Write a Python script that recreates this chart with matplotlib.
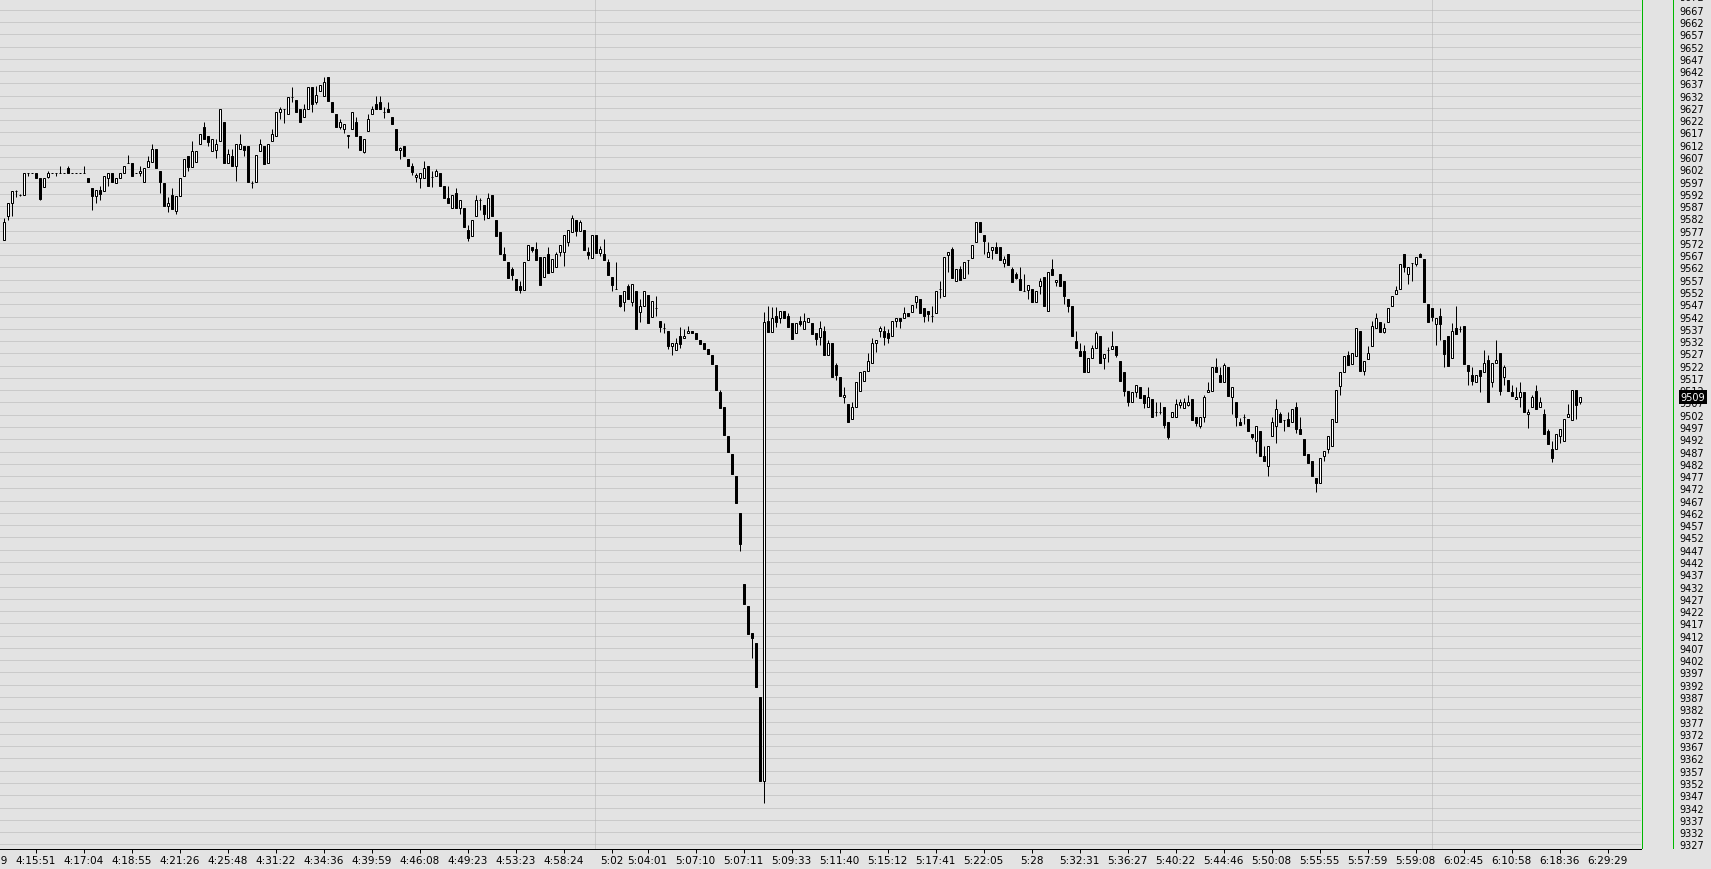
import matplotlib
matplotlib.use("Agg")
import matplotlib.pyplot as plt
import numpy as np
from matplotlib.lines import Line2D
from matplotlib.transforms import blended_transform_factory, Bbox, TransformedBbox

# ---------------- data (OHLC per bar, tick chart) ----------------
opens = [
 9573.0, 9583.1, 9588.1, 9593.0, 9591.5, 9591.5, 9600.3, 9600.3, 9600.3, 9598.4,
 9594.9, 9599.0, 9600.3, 9600.3, 9600.3, 9600.3, 9602.4, 9600.3, 9600.3, 9600.3,
 9600.3, 9598.4, 9594.2, 9591.2, 9593.5, 9593.3, 9598.3, 9600.3, 9596.3, 9598.3,
 9600.3, 9604.4, 9604.4, 9600.3, 9600.3, 9596.9, 9603.0, 9605.1, 9610.2, 9601.1,
 9596.4, 9587.2, 9591.5, 9585.1, 9591.2, 9599.1, 9607.3, 9603.0, 9605.1, 9612.1,
 9619.1, 9615.4, 9609.3, 9610.0, 9613.5, 9621.2, 9604.4, 9607.3, 9603.2, 9610.2,
 9611.3, 9611.3, 9596.4, 9596.9, 9609.3, 9611.3, 9604.4, 9613.5, 9615.4, 9625.2,
 9626.5, 9624.5, 9631.3, 9630.1, 9626.5, 9623.1, 9626.5, 9635.4, 9629.3, 9634.0,
 9632.0, 9639.4, 9629.5, 9624.5, 9619.1, 9618.4, 9615.4, 9618.4, 9621.1, 9615.4,
 9609.2, 9617.4, 9624.5, 9628.6, 9629.5, 9625.4, 9626.5, 9623.1, 9618.4, 9610.0,
 9611.5, 9606.2, 9603.2, 9598.9, 9598.4, 9598.4, 9603.2, 9599.0, 9599.2, 9600.5,
 9595.1, 9590.2, 9586.1, 9592.4, 9586.1, 9586.1, 9577.3, 9574.9, 9583.1, 9589.5,
 9587.5, 9582.0, 9591.6, 9581.4, 9576.4, 9567.4, 9564.1, 9561.4, 9557.3, 9554.4,
 9553.0, 9565.2, 9570.5, 9569.6, 9566.4, 9558.0, 9567.4, 9560.0, 9562.0, 9568.2,
 9568.2, 9572.2, 9576.4, 9581.4, 9577.0, 9577.3, 9568.2, 9566.0, 9575.3, 9568.0,
 9567.5, 9564.4, 9558.2, 9553.1, 9550.6, 9548.0, 9554.6, 9548.1, 9552.5, 9544.0,
 9546.2, 9550.6, 9542.0, 9545.4, 9540.2, 9537.3, 9536.2, 9530.2, 9528.2, 9534.0,
 9533.2, 9535.2, 9536.0, 9535.3, 9532.5, 9531.1, 9528.8, 9526.3, 9522.3, 9511.3,
 9505.2, 9493.3, 9486.0, 9477.0, 9462.0, 9433.0, 9424.1, 9413.0, 9409.0, 9387.0,
 9352.6, 9540.2, 9535.9, 9542.3, 9541.3, 9544.2, 9542.3, 9539.4, 9535.2, 9540.2,
 9537.0, 9539.9, 9539.4, 9535.2, 9533.7, 9536.2, 9526.2, 9531.3, 9522.3, 9517.3,
 9509.2, 9506.4, 9500.4, 9505.0, 9511.8, 9515.9, 9520.0, 9523.0, 9531.1, 9536.0,
 9536.0, 9535.3, 9534.0, 9540.0, 9541.4, 9541.3, 9543.3, 9544.0, 9548.1, 9549.2,
 9545.5, 9544.1, 9542.1, 9543.3, 9553.2, 9550.3, 9567.2, 9569.5, 9556.4, 9561.4,
 9557.9, 9565.2, 9566.0, 9572.2, 9580.4, 9575.2, 9566.1, 9569.3, 9570.2, 9570.2,
 9563.8, 9567.5, 9561.4, 9559.3, 9557.3, 9552.6, 9553.0, 9553.2, 9548.1, 9554.3,
 9558.0, 9544.1, 9561.4, 9556.2, 9559.2, 9556.5, 9549.2, 9546.2, 9532.2, 9528.1,
 9528.1, 9519.3, 9525.0, 9529.1, 9534.0, 9525.0, 9528.4, 9528.8, 9530.2, 9524.0,
 9519.3, 9511.8, 9507.0, 9511.1, 9513.2, 9510.0, 9505.0, 9508.4, 9503.0, 9503.0,
 9505.0, 9498.9, 9500.9, 9500.9, 9506.1, 9504.7, 9506.1, 9508.4, 9500.9, 9497.3,
 9500.9, 9511.1, 9511.8, 9521.3, 9518.2, 9515.2, 9521.3, 9509.1, 9507.0, 9499.2,
 9500.9, 9500.3, 9494.1, 9491.2, 9495.4, 9485.0, 9481.0, 9493.2, 9497.3, 9502.3,
 9500.0, 9500.3, 9498.9, 9505.0, 9496.2, 9492.1, 9486.0, 9483.1, 9476.4, 9474.2,
 9485.0, 9488.0, 9489.1, 9498.9, 9513.8, 9519.3, 9526.3, 9522.7, 9526.1, 9536.2,
 9519.9, 9524.7, 9530.1, 9537.2, 9539.9, 9535.8, 9539.9, 9546.1, 9551.0, 9553.2,
 9567.6, 9559.2, 9563.8, 9563.4, 9567.5, 9565.5, 9547.1, 9545.4, 9539.0, 9542.1,
 9532.3, 9533.9, 9525.0, 9537.2, 9537.0, 9538.0, 9522.3, 9518.2, 9515.2, 9520.2,
 9519.3, 9524.3, 9515.2, 9523.0, 9527.0, 9517.3, 9516.2, 9511.4, 9508.4, 9509.1,
 9511.1, 9502.3, 9505.0, 9511.8, 9505.0, 9502.3, 9495.3, 9488.1, 9488.1, 9493.2,
 9491.3, 9501.0, 9500.0, 9512.1, 9507.1,
]
highs = [
 9582.0, 9588.2, 9593.3, 9593.5, 9591.9, 9600.3, 9600.3, 9600.3, 9600.3, 9598.4,
 9598.4, 9601.3, 9600.3, 9600.3, 9603.2, 9600.3, 9603.2, 9600.3, 9600.3, 9600.3,
 9603.2, 9598.4, 9594.2, 9593.5, 9595.3, 9599.1, 9600.3, 9600.3, 9598.4, 9600.3,
 9603.2, 9607.9, 9604.4, 9600.3, 9603.2, 9602.4, 9607.3, 9612.3, 9610.2, 9601.1,
 9596.4, 9590.5, 9594.2, 9591.2, 9598.3, 9606.2, 9607.3, 9613.5, 9609.3, 9616.2,
 9621.2, 9615.4, 9614.3, 9614.3, 9626.5, 9621.2, 9610.2, 9610.2, 9612.1, 9616.2,
 9611.3, 9611.3, 9597.3, 9607.9, 9614.3, 9611.3, 9612.1, 9618.4, 9625.2, 9627.2,
 9626.5, 9631.3, 9635.4, 9630.1, 9626.5, 9628.6, 9635.4, 9635.4, 9636.0, 9636.2,
 9639.4, 9639.4, 9629.5, 9624.5, 9622.5, 9620.3, 9616.0, 9625.2, 9623.1, 9615.4,
 9614.3, 9624.5, 9627.9, 9632.0, 9632.0, 9627.2, 9629.3, 9623.1, 9618.4, 9611.0,
 9611.5, 9606.2, 9604.5, 9600.5, 9600.5, 9605.3, 9603.2, 9601.3, 9602.0, 9600.5,
 9595.1, 9595.1, 9591.6, 9594.3, 9589.5, 9586.1, 9579.3, 9581.4, 9591.6, 9590.3,
 9587.5, 9592.4, 9591.6, 9581.4, 9576.4, 9570.4, 9564.1, 9562.2, 9557.3, 9556.3,
 9564.1, 9571.2, 9570.5, 9572.3, 9566.4, 9566.2, 9570.3, 9565.5, 9568.5, 9571.2,
 9575.3, 9577.3, 9583.4, 9581.4, 9581.5, 9577.3, 9570.3, 9575.3, 9575.3, 9570.9,
 9573.4, 9565.5, 9558.2, 9564.1, 9550.6, 9552.4, 9555.3, 9555.3, 9552.5, 9549.2,
 9552.5, 9550.6, 9548.3, 9550.4, 9540.2, 9539.4, 9536.2, 9531.1, 9533.2, 9537.7,
 9537.0, 9538.1, 9536.0, 9535.3, 9532.5, 9531.1, 9528.8, 9526.3, 9522.3, 9512.2,
 9505.2, 9493.3, 9486.0, 9477.0, 9462.0, 9433.0, 9424.1, 9413.0, 9409.0, 9387.0,
 9544.0, 9546.2, 9546.0, 9546.0, 9544.2, 9544.2, 9543.4, 9539.4, 9539.4, 9542.3,
 9543.4, 9541.3, 9539.4, 9535.2, 9540.2, 9538.0, 9532.3, 9531.3, 9523.0, 9517.3,
 9513.3, 9506.4, 9507.1, 9515.2, 9519.3, 9520.0, 9527.2, 9533.1, 9532.5, 9538.3,
 9538.3, 9536.9, 9540.1, 9541.3, 9541.4, 9545.8, 9543.3, 9546.9, 9550.2, 9549.2,
 9545.5, 9544.1, 9546.2, 9552.3, 9556.4, 9566.1, 9568.2, 9570.2, 9561.4, 9562.4,
 9564.1, 9565.2, 9571.2, 9580.4, 9580.4, 9575.2, 9572.5, 9570.2, 9572.3, 9570.2,
 9566.8, 9567.5, 9562.0, 9560.3, 9562.0, 9559.3, 9555.0, 9553.2, 9552.3, 9557.6,
 9558.0, 9560.0, 9565.5, 9557.0, 9559.2, 9556.5, 9549.2, 9546.2, 9536.3, 9531.2,
 9530.4, 9525.0, 9530.4, 9536.1, 9534.0, 9526.8, 9529.5, 9536.0, 9530.2, 9524.0,
 9519.3, 9511.8, 9511.1, 9514.1, 9513.2, 9510.0, 9513.2, 9508.4, 9507.3, 9507.0,
 9505.0, 9498.9, 9503.0, 9508.4, 9508.4, 9508.7, 9510.0, 9508.4, 9500.9, 9500.9,
 9510.0, 9515.2, 9521.3, 9525.1, 9521.3, 9523.1, 9521.3, 9513.2, 9507.0, 9500.5,
 9502.3, 9500.3, 9494.1, 9497.3, 9495.4, 9489.4, 9489.1, 9501.0, 9508.4, 9503.0,
 9500.0, 9503.2, 9504.3, 9507.0, 9500.9, 9492.1, 9486.0, 9483.1, 9476.4, 9484.2,
 9487.4, 9493.2, 9500.3, 9512.1, 9519.3, 9526.0, 9528.1, 9527.0, 9537.2, 9536.2,
 9524.0, 9530.1, 9540.3, 9543.3, 9539.9, 9539.4, 9545.3, 9550.2, 9554.3, 9563.4,
 9567.6, 9562.0, 9563.8, 9566.1, 9567.8, 9565.5, 9547.1, 9545.4, 9541.3, 9545.4,
 9532.3, 9533.9, 9539.4, 9546.2, 9538.0, 9538.0, 9522.3, 9521.3, 9518.2, 9520.2,
 9528.4, 9526.3, 9523.0, 9532.5, 9527.0, 9522.3, 9516.2, 9514.1, 9513.2, 9515.2,
 9511.1, 9504.4, 9510.1, 9514.1, 9509.1, 9504.4, 9496.2, 9491.5, 9494.2, 9496.2,
 9500.3, 9506.4, 9512.1, 9512.1, 9509.1,
]
lows = [
 9573.0, 9581.5, 9583.1, 9590.5, 9591.2, 9591.5, 9599.4, 9600.3, 9598.3, 9589.6,
 9594.6, 9598.4, 9600.3, 9599.4, 9600.3, 9600.3, 9600.3, 9600.3, 9600.3, 9600.3,
 9600.3, 9596.9, 9585.5, 9588.2, 9589.6, 9593.3, 9595.3, 9596.9, 9596.3, 9598.3,
 9600.3, 9604.4, 9599.1, 9600.3, 9599.4, 9596.9, 9603.0, 9605.1, 9602.4, 9592.5,
 9587.2, 9584.4, 9585.8, 9583.6, 9591.2, 9599.1, 9601.4, 9603.0, 9605.1, 9612.1,
 9614.2, 9611.3, 9609.3, 9606.4, 9613.5, 9604.4, 9604.4, 9603.2, 9597.3, 9610.2,
 9607.5, 9596.9, 9594.5, 9596.9, 9609.3, 9604.1, 9604.4, 9613.5, 9615.4, 9622.5,
 9620.7, 9624.5, 9629.5, 9625.2, 9621.1, 9623.1, 9626.5, 9625.4, 9628.6, 9634.0,
 9632.0, 9629.9, 9625.2, 9619.1, 9618.4, 9616.8, 9610.5, 9618.4, 9615.4, 9610.0,
 9608.6, 9617.4, 9624.5, 9626.5, 9626.5, 9622.7, 9625.2, 9620.4, 9610.0, 9606.0,
 9607.3, 9603.2, 9599.5, 9597.0, 9594.5, 9598.4, 9595.1, 9594.7, 9599.2, 9595.1,
 9590.2, 9588.2, 9586.1, 9586.1, 9583.7, 9578.3, 9572.6, 9574.9, 9583.1, 9585.5,
 9581.5, 9582.0, 9583.1, 9575.0, 9567.3, 9565.2, 9557.8, 9556.7, 9553.0, 9551.4,
 9553.0, 9565.2, 9568.2, 9565.2, 9555.0, 9558.0, 9559.8, 9560.0, 9562.0, 9566.5,
 9562.5, 9570.7, 9576.4, 9574.7, 9577.0, 9569.3, 9565.5, 9566.0, 9568.0, 9566.6,
 9565.2, 9559.0, 9552.6, 9553.1, 9545.7, 9544.4, 9549.0, 9546.5, 9537.0, 9539.7,
 9546.2, 9539.2, 9542.0, 9542.4, 9535.6, 9535.4, 9528.6, 9526.5, 9528.2, 9529.2,
 9533.2, 9535.2, 9535.2, 9533.0, 9531.0, 9528.8, 9526.9, 9522.7, 9511.9, 9504.7,
 9493.7, 9487.0, 9477.9, 9465.9, 9446.3, 9424.9, 9412.7, 9403.0, 9390.9, 9352.6,
 9344.0, 9535.9, 9535.9, 9537.6, 9539.4, 9541.3, 9537.7, 9533.0, 9535.2, 9538.3,
 9537.0, 9539.9, 9534.9, 9530.6, 9530.6, 9526.2, 9526.2, 9517.3, 9516.3, 9509.7,
 9506.6, 9498.9, 9500.4, 9505.0, 9511.8, 9515.6, 9520.0, 9523.0, 9527.4, 9533.6,
 9530.6, 9531.2, 9534.0, 9537.6, 9537.3, 9541.3, 9542.1, 9544.0, 9545.6, 9543.3,
 9539.6, 9540.3, 9539.6, 9543.3, 9549.4, 9550.3, 9560.3, 9557.7, 9556.4, 9557.0,
 9557.9, 9559.3, 9566.0, 9572.2, 9576.3, 9567.5, 9566.1, 9565.5, 9567.9, 9565.2,
 9562.3, 9563.2, 9556.2, 9557.3, 9553.0, 9552.6, 9549.2, 9548.1, 9548.1, 9551.2,
 9546.2, 9544.1, 9559.1, 9554.6, 9554.3, 9547.1, 9543.7, 9534.0, 9529.1, 9526.1,
 9519.3, 9519.3, 9525.0, 9529.1, 9523.1, 9520.7, 9523.4, 9528.8, 9525.4, 9515.9,
 9509.5, 9505.7, 9507.0, 9509.1, 9508.7, 9504.6, 9505.0, 9500.9, 9501.3, 9502.3,
 9496.5, 9492.1, 9500.9, 9500.9, 9504.6, 9504.7, 9505.4, 9500.0, 9497.5, 9496.5,
 9499.2, 9511.1, 9511.8, 9519.3, 9515.2, 9515.2, 9509.8, 9502.3, 9497.5, 9497.9,
 9498.2, 9495.2, 9492.1, 9486.4, 9485.0, 9483.0, 9477.2, 9493.2, 9490.5, 9498.9,
 9495.5, 9497.3, 9498.9, 9494.4, 9494.0, 9485.6, 9482.3, 9476.9, 9470.4, 9474.2,
 9483.3, 9486.4, 9489.1, 9498.9, 9510.2, 9519.3, 9522.3, 9522.7, 9526.1, 9519.9,
 9518.2, 9524.7, 9530.1, 9537.2, 9535.8, 9535.3, 9539.9, 9546.1, 9551.0, 9553.2,
 9560.3, 9555.4, 9556.5, 9562.4, 9566.1, 9548.1, 9539.9, 9540.3, 9530.4, 9532.6,
 9521.6, 9521.7, 9525.0, 9534.9, 9535.6, 9522.7, 9514.3, 9514.3, 9515.2, 9511.4,
 9519.3, 9507.1, 9513.4, 9523.0, 9510.2, 9514.3, 9511.8, 9509.8, 9508.4, 9505.3,
 9503.0, 9496.5, 9505.0, 9504.4, 9505.0, 9494.2, 9490.1, 9482.6, 9488.1, 9490.5,
 9491.3, 9501.0, 9500.0, 9500.3, 9506.5,
]
closes = [
 9580.4, 9588.2, 9593.3, 9593.3, 9591.5, 9600.3, 9600.3, 9600.3, 9598.3, 9589.9,
 9598.4, 9600.3, 9600.3, 9600.3, 9600.3, 9600.3, 9600.3, 9600.3, 9600.3, 9600.3,
 9600.3, 9596.9, 9591.2, 9593.5, 9591.9, 9599.1, 9600.3, 9596.9, 9598.4, 9600.3,
 9603.2, 9604.4, 9599.1, 9600.3, 9601.3, 9602.4, 9605.2, 9610.2, 9602.4, 9596.9,
 9587.2, 9588.2, 9585.8, 9591.2, 9598.3, 9606.2, 9603.0, 9609.3, 9609.3, 9616.2,
 9614.2, 9613.2, 9614.3, 9612.1, 9626.5, 9604.4, 9608.1, 9603.2, 9612.1, 9612.1,
 9610.0, 9596.9, 9596.4, 9607.9, 9612.1, 9604.1, 9612.1, 9616.2, 9625.2, 9626.5,
 9626.5, 9631.3, 9631.3, 9625.2, 9621.1, 9626.5, 9635.4, 9628.6, 9632.2, 9636.2,
 9637.4, 9629.9, 9625.2, 9619.1, 9621.1, 9620.3, 9616.0, 9625.2, 9615.4, 9610.0,
 9614.3, 9622.5, 9626.5, 9626.5, 9626.5, 9625.4, 9625.2, 9620.4, 9610.0, 9610.5,
 9607.3, 9603.2, 9601.0, 9599.5, 9600.5, 9602.4, 9595.1, 9599.0, 9601.2, 9595.1,
 9590.2, 9588.2, 9591.6, 9586.1, 9589.5, 9578.3, 9574.1, 9581.4, 9589.5, 9589.5,
 9583.8, 9590.2, 9583.1, 9575.0, 9567.3, 9565.2, 9557.8, 9559.1, 9553.0, 9553.0,
 9564.1, 9571.2, 9569.3, 9565.2, 9555.0, 9566.2, 9559.8, 9565.5, 9567.4, 9571.2,
 9575.3, 9577.3, 9582.2, 9577.0, 9580.7, 9569.3, 9567.1, 9575.3, 9568.0, 9569.6,
 9565.2, 9559.0, 9554.9, 9553.1, 9546.2, 9552.4, 9549.0, 9555.3, 9537.0, 9546.5,
 9552.5, 9539.2, 9548.3, 9545.4, 9537.9, 9537.3, 9530.2, 9531.1, 9531.1, 9531.0,
 9534.0, 9536.0, 9535.2, 9533.0, 9531.0, 9528.8, 9526.9, 9522.7, 9511.9, 9504.7,
 9493.7, 9487.0, 9477.9, 9465.9, 9449.2, 9424.9, 9412.7, 9410.9, 9390.9, 9352.6,
 9539.9, 9535.9, 9541.3, 9539.9, 9544.2, 9541.3, 9537.7, 9533.0, 9539.4, 9539.0,
 9540.2, 9541.3, 9534.9, 9533.0, 9537.3, 9526.2, 9531.3, 9517.3, 9518.0, 9509.7,
 9509.9, 9498.9, 9505.0, 9515.2, 9519.3, 9520.0, 9524.0, 9531.2, 9532.5, 9537.3,
 9533.8, 9533.2, 9540.1, 9541.3, 9540.0, 9543.3, 9542.1, 9546.9, 9550.2, 9543.3,
 9542.1, 9543.0, 9542.1, 9552.3, 9553.2, 9566.1, 9568.2, 9557.7, 9561.4, 9557.0,
 9564.1, 9565.2, 9571.2, 9580.4, 9576.3, 9572.9, 9568.5, 9570.2, 9567.9, 9565.2,
 9565.5, 9563.2, 9556.2, 9557.7, 9553.0, 9552.6, 9555.0, 9548.1, 9552.3, 9556.4,
 9546.2, 9560.0, 9559.1, 9557.0, 9554.3, 9550.3, 9546.2, 9534.0, 9529.1, 9526.1,
 9519.3, 9525.0, 9529.1, 9535.2, 9523.1, 9526.8, 9528.4, 9530.2, 9526.4, 9515.9,
 9511.8, 9507.1, 9511.1, 9514.1, 9508.7, 9506.8, 9509.1, 9500.9, 9503.0, 9503.0,
 9498.0, 9492.8, 9503.0, 9506.4, 9507.0, 9507.0, 9507.0, 9500.0, 9498.6, 9500.9,
 9509.1, 9511.9, 9521.3, 9519.3, 9515.2, 9522.2, 9509.8, 9513.2, 9500.9, 9497.9,
 9500.9, 9495.2, 9492.8, 9497.3, 9485.0, 9483.0, 9489.1, 9498.9, 9504.3, 9498.9,
 9500.0, 9497.3, 9504.3, 9496.2, 9494.0, 9485.6, 9482.3, 9476.9, 9474.2, 9484.2,
 9487.4, 9493.2, 9500.3, 9512.1, 9519.3, 9526.0, 9522.3, 9527.0, 9537.2, 9519.9,
 9524.0, 9527.1, 9538.0, 9541.3, 9535.8, 9537.2, 9545.3, 9550.2, 9552.9, 9563.4,
 9562.0, 9562.0, 9563.8, 9566.1, 9566.1, 9548.1, 9539.9, 9542.0, 9541.3, 9539.0,
 9526.8, 9521.7, 9536.0, 9534.9, 9537.0, 9522.7, 9520.0, 9515.9, 9518.2, 9517.9,
 9523.0, 9507.1, 9523.0, 9524.3, 9511.8, 9521.6, 9511.8, 9509.8, 9509.2, 9511.1,
 9503.0, 9503.0, 9509.1, 9504.4, 9507.1, 9494.2, 9490.1, 9484.3, 9494.2, 9496.2,
 9500.3, 9502.3, 9512.1, 9506.1, 9509.1,
]

# time-axis labels (bar index -> time text)
time_tick_bars = [-4, 8, 20, 32, 44, 56, 68, 80, 92, 104, 116, 128, 140,
                  152, 161, 173, 185, 197, 209, 221, 233, 245, 257, 269, 281,
                  293, 305, 317, 329, 341, 353, 365, 377, 389, 401]
time_tick_labels = ["4:14:19", "4:15:51", "4:17:04", "4:18:55", "4:21:26", "4:25:48",
                    "4:31:22", "4:34:36", "4:39:59", "4:46:08", "4:49:23", "4:53:23",
                    "4:58:24", "5:02", "5:04:01", "5:07:10", "5:07:11", "5:09:33",
                    "5:11:40", "5:15:12", "5:17:41", "5:22:05", "5:28", "5:32:31",
                    "5:36:27", "5:40:22", "5:44:46", "5:50:08", "5:55:55", "5:57:59",
                    "5:59:08", "6:02:45", "6:10:58", "6:18:36", "6:29:29"]
hour_breaks = [147.75, 357.0]
price_ticks = list(range(9327, 9668, 5))

# ---------------- figure ----------------
W, H = 1711, 870
PX = 0.72  # one pixel in points at 100 dpi
BG = "#e3e3e3"
GRID = "#b3b3b3"
fig = plt.figure(figsize=(W / 100, H / 100), dpi=100, facecolor=BG)
ax = fig.add_axes([0, 20 / H, 1641 / W, 850 / H])
ax.set_facecolor(BG)

o = np.array(opens); h = np.array(highs); l = np.array(lows); c = np.array(closes)
idx = np.arange(len(c))

# 4 px per bar, bar centres on pixel centres
ax.set_xlim(-3.5 / 4, (1641 - 3.5) / 4)
ax.set_ylim(9325.1, 9671.36)

# grid
ax.set_yticks(price_ticks)
ax.set_yticklabels([str(v) for v in price_ticks])
ax.yaxis.grid(True, linestyle=(0, (1, 1)), color=GRID, linewidth=PX, zorder=0)
for b in hour_breaks:
    ax.axvline(b, linestyle=(0, (1, 1)), color=GRID, linewidth=PX, zorder=0)
ax.set_axisbelow(True)

# candles
ax.vlines(idx, l, h, color="black", linewidth=PX, zorder=2)
bottoms = np.minimum(o, c)
heights = np.abs(c - o)
faces = ["white" if cc >= oo else "black" for oo, cc in zip(o, c)]
ax.bar(idx, heights, width=0.5, bottom=bottoms, color=faces, edgecolor="black",
       linewidth=PX, zorder=3)

# axes styling
for s in ("top", "left", "right"):
    ax.spines[s].set_visible(False)
ax.spines["bottom"].set_color("black")
ax.spines["bottom"].set_linewidth(PX)

ax.yaxis.tick_right()
ax.tick_params(axis="y", length=0, pad=27.4, labelsize=7, labelcolor="black")
clipbox = TransformedBbox(Bbox([[0, 20 / H], [1, 1]]), fig.transFigure)
for lab in ax.get_yticklabels():
    lab.set_clip_box(clipbox)
    lab.set_clip_on(True)

xlo, xhi = ax.get_xlim()
ax.set_xticks([p for p in time_tick_bars if xlo <= p <= xhi])
ax.set_xticklabels([])
ax.tick_params(axis="x", direction="out", length=3, width=PX, color="black")
trans_x = blended_transform_factory(ax.transData, ax.transAxes)
for p, t in zip(time_tick_bars, time_tick_labels):
    ax.text(p, -11 / 850, t, transform=trans_x, ha="center", va="center",
            fontsize=7.5, color="black", clip_on=False)

# right-hand price column lines
fig.add_artist(Line2D([1641.5 / W] * 2, [21 / H, 1], color="#00b800", linewidth=PX))
fig.add_artist(Line2D([1672.5 / W] * 2, [21 / H, 1], color="#00b800", linewidth=PX))

# top partially visible label
trans_py = blended_transform_factory(fig.transFigure, ax.transData)
fig.text(1679 / W, 9672, "9672", transform=trans_py, fontsize=7, va="center",
         ha="left", color="black")

# last price marker
fig.text(1680.5 / W, c[-1], f"{c[-1]:.0f}", transform=trans_py, fontsize=7,
         va="center", ha="left", color="white", zorder=10,
         bbox=dict(boxstyle="square,pad=0.2", fc="black", ec="none"))

fig.savefig("out.png", dpi=100, facecolor=BG)
